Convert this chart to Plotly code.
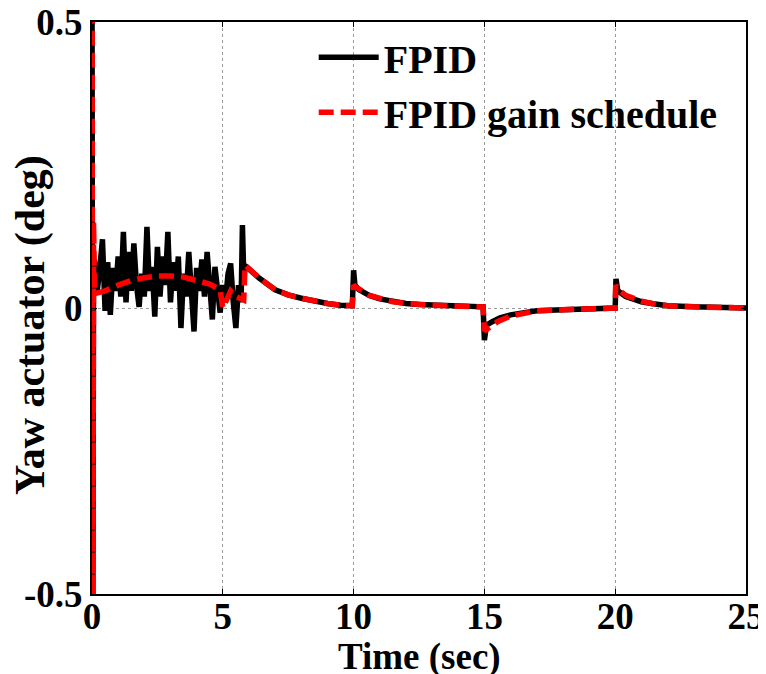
import plotly.graph_objects as go

# ---- data ----
t_fpid = [0.0, 0.03, 0.06,
          0.1, 0.2, 0.3, 0.4, 0.5, 0.6, 0.7, 0.8, 0.9, 1.0,
          1.1, 1.2, 1.3, 1.4, 1.5, 1.6, 1.7, 1.8, 1.9, 2.0,
          2.1, 2.2, 2.3, 2.4, 2.5, 2.6, 2.7, 2.8, 2.9, 3.0,
          3.1, 3.2, 3.3, 3.4, 3.5, 3.6, 3.7, 3.8, 3.9, 4.0,
          4.1, 4.2, 4.3, 4.4, 4.5, 4.6, 4.7, 4.8, 4.9, 5.0,
          5.1, 5.2, 5.3, 5.4, 5.5, 5.6, 5.7, 5.75, 5.8, 5.85,
          6.0, 6.4, 7.0, 7.5, 8.0, 8.5, 9.0, 9.5, 9.95,
          10.0, 10.05, 10.2, 10.6, 11.0, 11.5, 12.0, 12.5, 13.0, 14.0, 14.95,
          15.0, 15.08, 15.3, 15.6, 16.0, 16.6, 17.0, 18.0, 19.0, 19.95,
          20.0, 20.03, 20.1, 20.4, 21.0, 21.4, 22.0, 23.0, 24.0, 25.0]
y_fpid = [0.6, -0.6, 0.08,
          0.08, 0.03, 0.07, 0.12, -0.005, 0.08, -0.012, 0.07, 0.03, 0.09,
          0.02, 0.133, 0.01, 0.098, 0.03, 0.113, 0.04, 0.002, 0.06, 0.02,
          0.142, 0.03, 0.072, -0.015, 0.107, 0.02, 0.09, 0.04, 0.133, 0.01,
          0.08, 0.03, 0.09, -0.035, 0.06, 0.02, 0.098, 0.01, -0.041, 0.07,
          0.03, 0.085, 0.02, 0.098, 0.03, -0.02, 0.072, 0.02, -0.008, 0.04,
          0.01, 0.06, 0.078, 0.01, -0.035, 0.04, 0.01, 0.145, 0.06, 0.074,
          0.068, 0.052, 0.032, 0.023, 0.017, 0.012, 0.008, 0.005, 0.004,
          0.066, 0.04, 0.032, 0.022, 0.016, 0.011, 0.008, 0.006, 0.005, 0.003, 0.002,
          -0.056, -0.03, -0.024, -0.017, -0.012, -0.007, -0.005, -0.003, -0.001, 0.0,
          0.0, 0.051, 0.03, 0.02, 0.011, 0.008, 0.004, 0.002, 0.001, 0.0]

t_gs = [0.0, 0.03, 0.06, 0.1, 0.5, 1.0, 1.5, 2.0, 2.5, 3.0, 3.5, 4.0, 4.5, 4.9,
        5.0, 5.1, 5.3, 5.5, 5.7, 5.8, 5.85, 6.0, 6.4, 7.0, 7.5, 8.0, 8.5, 9.0, 9.5, 9.95,
        10.0, 10.05, 10.6, 11.0, 11.5, 12.0, 12.5, 13.0, 14.0, 14.95,
        15.0, 15.2, 15.5, 16.0, 16.6, 17.0, 18.0, 19.0, 19.95,
        20.0, 20.02, 20.1, 20.4, 21.0, 21.4, 22.0, 23.0, 24.0, 25.0]
y_gs = [0.6, -0.6, 0.15, 0.025, 0.03, 0.04, 0.048, 0.053, 0.056, 0.056, 0.054, 0.048, 0.042, 0.032,
        0.0, 0.01, 0.03, 0.02, 0.015, 0.014, 0.075, 0.068, 0.052, 0.032, 0.023, 0.017, 0.012, 0.008, 0.005, 0.004,
        0.04, 0.038, 0.022, 0.016, 0.011, 0.008, 0.006, 0.005, 0.003, 0.002,
        -0.04, -0.033, -0.024, -0.014, -0.008, -0.005, -0.003, -0.001, 0.0,
        0.0, 0.04, 0.033, 0.022, 0.012, 0.008, 0.004, 0.002, 0.001, 0.0]

x_ticks = [0, 5, 10, 15, 20, 25]
x_tick_labels = ["0", "5", "10", "15", "20", "25"]
y_ticks = [-0.5, 0, 0.5]
y_tick_labels = ["-0.5", "0", "0.5"]

FONT = "Liberation Serif, Times New Roman, serif"

fig = go.Figure()
fig.add_trace(go.Scatter(x=t_fpid, y=y_fpid, mode="lines", name="FPID",
                         line=dict(color="black", width=5.5)))
fig.add_trace(go.Scatter(x=t_gs, y=y_gs, mode="lines", name="FPID gain schedule",
                         line=dict(color="red", width=5.5, dash="15px,7px")))

axis_common = dict(showline=True, linecolor="black", linewidth=2, mirror="ticks",
                   ticks="inside", ticklen=5, tickcolor="black", tickwidth=1,
                   showgrid=True, gridcolor="#9a9a9a", gridwidth=1, griddash="dot",
                   zeroline=False, ticklabeloverflow="allow",
                   tickfont=dict(family=FONT, size=37, color="black", weight="bold"))

fig.update_xaxes(range=[0, 25], tickvals=x_ticks, ticktext=x_tick_labels,
                 ticklabelstandoff=-11, **axis_common)
fig.update_yaxes(range=[-0.5, 0.5], tickvals=y_ticks, ticktext=y_tick_labels,
                 **axis_common)

fig.add_annotation(text="Time (sec)", xref="paper", yref="paper",
                   x=0.5, y=-0.11, xanchor="center", yanchor="middle", showarrow=False,
                   font=dict(family=FONT, size=37, color="black", weight="bold"))
fig.add_annotation(text="Yaw actuator (deg)", textangle=-90, xref="paper", yref="paper",
                   x=-0.095, y=0.47, xanchor="center", yanchor="middle", showarrow=False,
                   font=dict(family=FONT, size=42, color="black", weight="bold"))

# page body adds an 8px offset, so margins are reduced accordingly
fig.update_layout(
    width=766, height=674,
    margin=dict(l=84, r=28, t=14, b=88, autoexpand=False),
    paper_bgcolor="white", plot_bgcolor="white",
    font=dict(family=FONT, size=38, color="black", weight="bold"),
    showlegend=True,
    legend=dict(x=0.339, y=0.995, xanchor="left", yanchor="top",
                bgcolor="rgba(0,0,0,0)", borderwidth=0, itemwidth=60,
                font=dict(family=FONT, size=40, color="black", weight="bold")),
)

fig.write_html("out.html")
